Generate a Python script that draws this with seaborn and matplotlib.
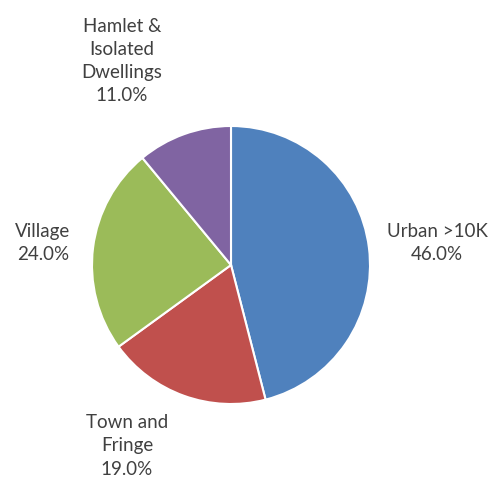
import matplotlib
matplotlib.use("Agg")
import matplotlib.pyplot as plt
import seaborn as sns

categories = ["Urban >10K", "Town and\nFringe", "Village", "Hamlet &\nIsolated\nDwellings"]
shares = [46.0, 19.0, 24.0, 11.0]
colors = ["#4F81BD", "#C0504D", "#9BBB59", "#8064A2"]

sns.set_theme(style="white")
plt.rcParams["font.family"] = ["Lato", "DejaVu Sans"]

W, H = 496, 484
fig = plt.figure(figsize=(W / 100, H / 100), dpi=100)
ax = fig.add_axes([0, 0, 1, 1])
ax.set_xlim(0, W)
ax.set_ylim(0, H)
ax.set_aspect("equal")
ax.axis("off")

cx, cy, r = 231, H - 265, 139
ax.pie(shares, colors=colors, startangle=90, counterclock=False,
       center=(cx, cy), radius=r, frame=True,
       wedgeprops=dict(edgecolor="white", linewidth=1.5))
ax.set_xlim(0, W)
ax.set_ylim(0, H)
ax.axis("off")

# label anchor points (pixel coordinates from the top-left)
label_pos = [(437, 243), (127, 446), (43, 243), (122, 61)]
for name, val, (x, y) in zip(categories, shares, label_pos):
    ax.text(x, H - y, f"{name}\n{val:.1f}%", ha="center", va="center",
            fontsize=13.5, color="#404040", linespacing=1.45)

fig.savefig("out.png", dpi=100)
